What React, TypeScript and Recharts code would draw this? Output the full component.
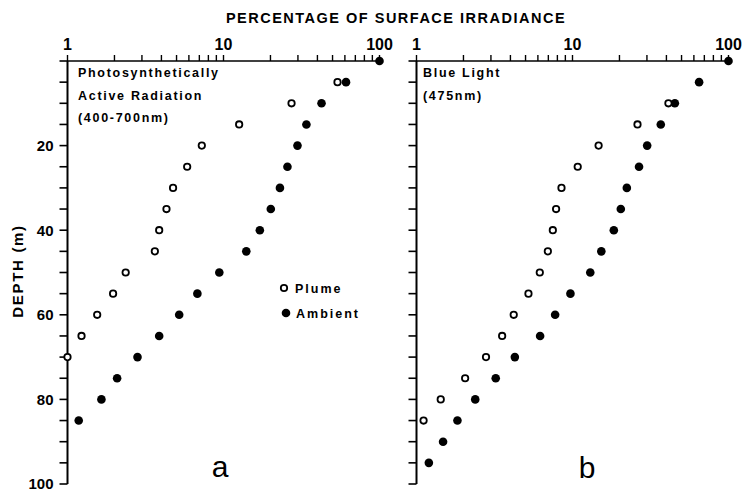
import { ScatterChart, Scatter, XAxis, YAxis } from 'recharts'

// depth (m) of each reading
const depthAmbientA = [0, 5, 10, 15, 20, 25, 30, 35, 40, 45, 50, 55, 60, 65, 70, 75, 80, 85]
const ambientA = [100, 61, 42.5, 34, 29.8, 25.7, 23, 20.1, 17.1, 14, 9.4, 6.8, 5.2, 3.87, 2.81, 2.08, 1.65, 1.18]
const depthPlumeA = [5, 10, 15, 20, 25, 30, 35, 40, 45, 50, 55, 60, 65, 70]
const plumeA = [53.8, 27.3, 12.6, 7.26, 5.85, 4.75, 4.31, 3.87, 3.63, 2.36, 1.96, 1.55, 1.23, 1.0]

const depthAmbientB = [0, 5, 10, 15, 20, 25, 30, 35, 40, 45, 50, 55, 60, 65, 70, 75, 80, 85, 90, 95]
const ambientB = [100, 64.8, 45.3, 36.8, 30.1, 26.7, 22.3, 20.4, 18.4, 15.3, 13.0, 9.7, 7.74, 6.2, 4.27, 3.22, 2.38, 1.83, 1.48, 1.2]
const depthPlumeB = [10, 15, 20, 25, 30, 35, 40, 45, 50, 55, 60, 65, 70, 75, 80, 85]
const plumeB = [41.2, 26.1, 14.7, 10.8, 8.5, 7.85, 7.48, 6.95, 6.17, 5.22, 4.2, 3.54, 2.79, 2.05, 1.43, 1.11]

const xTicks = [1, 2, 3, 4, 5, 6, 7, 8, 9, 10, 20, 30, 40, 50, 60, 70, 80, 90, 100]
const xLabels = [1, 10, 100]
const yTicks = [0, 5, 10, 15, 20, 25, 30, 35, 40, 45, 50, 55, 60, 65, 70, 75, 80, 85, 90, 95, 100]
const yLabels = [20, 40, 60, 80, 100]

const FONT = '"Liberation Sans", Arial, sans-serif'

const toPoints = (depths: number[], vals: number[]) =>
  depths.map((d, i) => ({ x: vals[i], depth: d }))

const Filled = (p: any) => <circle cx={p.cx} cy={p.cy} r={4.3} fill="#000" />
const Open = (p: any) => (
  <circle cx={p.cx} cy={p.cy} r={3.2} fill="#fff" stroke="#000" strokeWidth={1.8} />
)

function Panel({ ambient, plume, showY }: { ambient: any[]; plume: any[]; showY: boolean }) {
  return (
    <ScatterChart width={400} height={491} margin={{ top: 60, right: 20.5, bottom: 7, left: 66.5 }}>
      <XAxis
        type="number"
        dataKey="x"
        scale="log"
        domain={[1, 100]}
        orientation="top"
        height={1}
        ticks={xTicks}
        interval={0}
        tickSize={6}
        tickMargin={5}
        tickFormatter={(v: number) => (xLabels.includes(v) ? String(v) : '')}
        axisLine={{ stroke: '#000', strokeWidth: 1.4 }}
        tickLine={{ stroke: '#000', strokeWidth: 1.4 }}
        tick={{ fill: '#000', fontSize: 16, fontWeight: 'bold', fontFamily: FONT }}
      />
      <YAxis
        type="number"
        dataKey="depth"
        domain={[0, 100]}
        reversed
        width={1}
        ticks={yTicks}
        interval={0}
        tickSize={8}
        tickMargin={6}
        tickFormatter={(v: number) => (showY && yLabels.includes(v) ? String(v) : '')}
        axisLine={{ stroke: '#000', strokeWidth: 2 }}
        tickLine={{ stroke: '#000', strokeWidth: 1.6 }}
        tick={{ fill: '#000', fontSize: 15, fontWeight: 'bold', fontFamily: FONT }}
      />
      <Scatter data={ambient} shape={Filled} isAnimationActive={false} />
      <Scatter data={plume} shape={Open} isAnimationActive={false} />
    </ScatterChart>
  )
}

export default function App() {
  const txt = { fontFamily: FONT, fontWeight: 'bold' as const, fill: '#000' }
  return (
    <div style={{ position: 'absolute', left: 0, top: 0, width: 749, height: 491, background: '#fff' }}>
      <div style={{ position: 'absolute', left: 0, top: 0 }}>
        <Panel ambient={toPoints(depthAmbientA, ambientA)} plume={toPoints(depthPlumeA, plumeA)} showY />
      </div>
      <div style={{ position: 'absolute', left: 349.2, top: 0 }}>
        <Panel ambient={toPoints(depthAmbientB, ambientB)} plume={toPoints(depthPlumeB, plumeB)} showY={false} />
      </div>
      <svg width={749} height={491} style={{ position: 'absolute', left: 0, top: 0, pointerEvents: 'none' }}>
        <text x={396} y={23} textAnchor="middle" fontSize={14.5} letterSpacing={1.5} {...txt}>
          PERCENTAGE OF SURFACE IRRADIANCE
        </text>
        <text transform="translate(22.7,271) rotate(-90)" textAnchor="middle" fontSize={15} letterSpacing={1.7} {...txt}>
          DEPTH (m)
        </text>
        <g fontSize={12.5} letterSpacing={1.7} {...txt}>
          <text x={78} y={77}>Photosynthetically</text>
          <text x={78} y={100}>Active Radiation</text>
          <text x={78} y={122}>(400-700nm)</text>
          <text x={423} y={77}>Blue Light</text>
          <text x={423} y={100}>(475nm)</text>
        </g>
        <circle cx={284} cy={288} r={3.2} fill="#fff" stroke="#000" strokeWidth={1.8} />
        <text x={295} y={293} fontSize={12.5} letterSpacing={2} {...txt}>Plume</text>
        <circle cx={286} cy={313} r={4.3} fill="#000" />
        <text x={296} y={318} fontSize={12.5} letterSpacing={2} {...txt}>Ambient</text>
        <text x={220} y={477} textAnchor="middle" fontSize={30} fontFamily={FONT} fill="#000">a</text>
        <text x={587} y={478} textAnchor="middle" fontSize={30} fontFamily={FONT} fill="#000">b</text>
      </svg>
    </div>
  )
}
